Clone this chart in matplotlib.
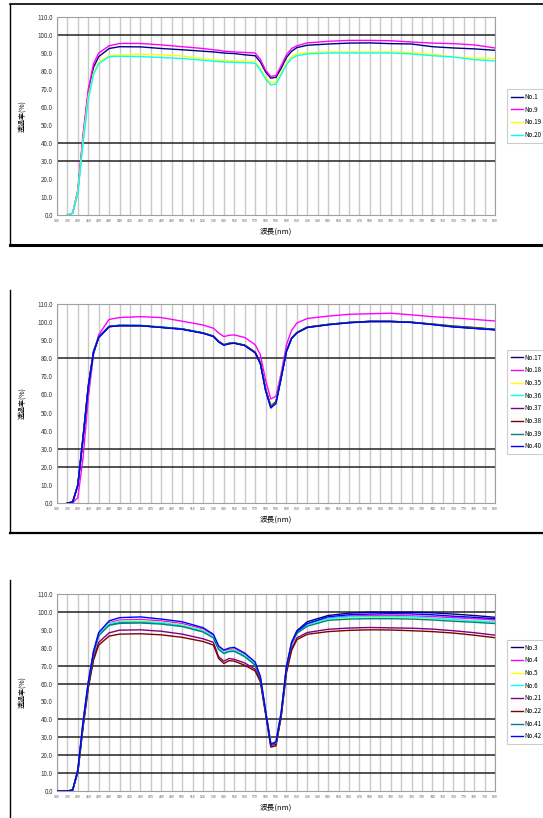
import numpy as np
import matplotlib
matplotlib.use("Agg")
import matplotlib.pyplot as plt
from matplotlib.lines import Line2D

plt.rcParams['font.family'] = ['Noto Sans CJK JP', 'DejaVu Sans']

# wavelength (nm), shared by all three charts
wl = [380, 390, 395, 400, 405, 410, 415, 420, 430, 440, 460, 480, 500, 520,
      530, 535, 540, 545, 550, 560, 570, 575, 580, 585, 590, 595, 600, 605,
      610, 620, 640, 660, 680, 700, 720, 740, 760, 780, 800]
nan = np.nan

# chart 1
p1_names = ["No.1", "No.9", "No.19", "No.20"]
p1_no1 = [nan, 0, 1, 13, 43, 68, 82, 88, 92.5, 93.5, 93.4, 92.5, 91.8, 91,
          90.6, 90.3, 90, 89.8, 89.7, 89, 88.5, 85, 79.5, 76, 76.5, 81.5, 87.5, 91,
          93, 94.3, 95, 95.5, 95.6, 95.2, 95, 93.5, 92.8, 92.3, 91.5]
p1_no9 = [nan, 0, 1, 14, 45, 70, 84, 90, 94, 95.3, 95.3, 94.5, 93.5, 92.5,
          91.8, 91.5, 91, 90.8, 90.6, 90.3, 90, 86.5, 80.5, 77, 77.5, 83, 89, 92.5,
          94, 95.6, 96.5, 97, 97, 96.8, 96.1, 95.5, 95.2, 94.5, 92.8]
p1_no19 = [nan, 0, 1, 13, 42, 66, 79, 85, 88.5, 89, 89.3, 89, 88.3, 86.8,
           86.2, 86, 85.8, 85.7, 85.6, 85.5, 85, 81.5, 76.5, 73.5, 74, 79, 84.5, 88,
           89.5, 90.2, 90.6, 90.6, 90.6, 90.6, 90.3, 89.3, 87.8, 87.2, 86.9]
p1_no20 = [nan, 0, 1, 12, 40, 64, 78, 84, 88, 88.2, 88, 87.5, 86.9, 86,
           85.4, 85.2, 85, 84.9, 84.8, 84.6, 84.3, 80.5, 75.5, 72.2, 72.8, 78, 83.5, 87,
           88.5, 89.5, 90, 90, 90, 90, 89.5, 88.5, 87.8, 86.3, 85.6]

# chart 2
p2_names = ["No.17", "No.18", "No.35", "No.36", "No.37", "No.38", "No.39", "No.40"]
p2_no17 = [nan, 0, 0.5, 10, 37, 65, 84, 92, 97.6, 98.2, 98.1, 97.2, 96.2, 94,
           92.2, 89.3, 87.5, 88.3, 88.5, 87.2, 83.3, 77.5, 63, 53.5, 56, 70, 84, 91.2,
           94.2, 97.2, 98.7, 99.8, 100.4, 100.4, 99.9, 98.8, 97.5, 96.6, 95.8]
p2_no18 = [nan, 0, 0, 3, 25, 58, 82, 93, 101.5, 102.5, 103, 102.5, 100.5, 98.4,
           96.6, 94, 92, 92.7, 92.9, 91.5, 87.5, 82, 68, 57.5, 59, 72, 87.4, 95.5,
           99.5, 102, 103.3, 104.3, 104.6, 104.9, 104, 103, 102.3, 101.5, 100.6]
p2_no35 = [nan, 0, 0.5, 9.5, 35, 63, 83, 91.5, 97.5, 98.1, 98.1, 97.3, 96.3, 94.2,
           92.5, 89.5, 87.6, 88.4, 88.6, 87.4, 83.5, 78, 63.5, 54, 56.5, 70.5, 84.2, 91.3,
           94.3, 97.3, 98.8, 99.8, 100.4, 100.5, 100, 99, 97.9, 97, 96.1]
p2_no36 = [nan, 0, 0.5, 10, 36, 64, 83.5, 91.8, 97.7, 98.3, 98.2, 97.3, 96.3, 94.1,
           92.3, 89.2, 87.4, 88.2, 88.4, 87.1, 83.2, 77.3, 62.8, 53.2, 55.6, 69.6, 84, 91.1,
           94.1, 97.1, 98.6, 99.7, 100.3, 100.4, 99.9, 98.9, 97.8, 96.9, 96]
p2_no37 = [nan, 0, 0.5, 10, 36.5, 64.5, 83.5, 91.7, 97.5, 98.1, 98, 97.1, 96.1, 93.9,
           92.1, 89.1, 87.3, 88.1, 88.4, 87.1, 83.1, 77.2, 62.5, 53, 55.5, 69.5, 83.8, 91,
           94, 97, 98.6, 99.7, 100.3, 100.3, 99.8, 98.7, 97.4, 96.6, 95.8]
p2_no38 = [nan, 0, 0.5, 9.8, 35.5, 63.5, 83, 91.4, 97.4, 98, 98, 97.1, 96.2, 94,
           92.3, 89.4, 87.5, 88.3, 88.5, 87.3, 83.4, 77.8, 63.2, 53.6, 56, 70, 84, 91.2,
           94.2, 97.2, 98.7, 99.8, 100.4, 100.4, 99.9, 98.9, 97.8, 97, 96]
p2_no39 = [nan, 0, 0.5, 10, 36, 64, 83.2, 91.6, 97.6, 98.2, 98.1, 97.2, 96.2, 94,
           92.2, 89.2, 87.4, 88.2, 88.4, 87.1, 83.2, 77.4, 62.8, 53.3, 55.8, 69.8, 84, 91.1,
           94.1, 97.1, 98.7, 99.8, 100.4, 100.4, 99.9, 98.8, 97.6, 96.8, 95.9]
p2_no40 = [nan, 0, 0.5, 10, 36, 64, 83, 91.5, 97.5, 98, 98, 97, 96, 93.8,
           92, 89, 87.2, 88, 88.3, 87, 83, 77, 62, 52.5, 55, 69, 83.7, 91,
           94, 97, 98.5, 99.6, 100.3, 100.3, 99.8, 98.6, 97.3, 96.5, 95.7]

# chart 3
p3_names = ["No.3", "No.4", "No.5", "No.6", "No.21", "No.22", "No.41", "No.42"]
p3_no3 = [0, 0, 0.5, 11.5, 38, 60, 77, 87, 93, 94.3, 94.5, 94, 92.5, 89.5,
          86, 79.5, 77, 78.2, 78.5, 75.5, 70.5, 63, 44.5, 26.5, 27, 43.5, 69, 83,
          89.5, 94.5, 98, 99.3, 99.8, 99.8, 99.8, 99.5, 98.8, 98, 97]
p3_no4 = [0, 0, 0.5, 11.5, 38.5, 60.5, 77.5, 88, 94, 95.5, 95.8, 95, 93.5, 90.5,
          86.8, 80.2, 78, 79, 79.3, 76.3, 71.3, 63.5, 44.8, 26.8, 27.2, 43.8, 69.2, 82.8,
          88.8, 93, 96.5, 97.6, 98, 98, 97.8, 97.4, 96.8, 96.2, 95.5]
p3_no5 = [0, 0, 0.5, 11, 37.5, 60, 77, 87.5, 93.5, 94.8, 95, 94.3, 92.8, 89.8,
          86.2, 79.8, 77.5, 78.5, 78.8, 75.8, 71, 63.2, 44.5, 26.5, 27, 43.5, 69, 82.5,
          88.5, 92.5, 96, 96.8, 97, 97, 96.8, 96.3, 95.7, 95.2, 94.5]
p3_no6 = [0, 0, 0.5, 11, 37.5, 60, 77, 87.3, 93.3, 94.5, 94.6, 94, 92.5, 89.5,
          86, 79.6, 77.3, 78.3, 78.6, 75.6, 70.8, 63, 44.3, 26.3, 26.8, 43.3, 68.8, 82.5,
          88.5, 92.8, 96.3, 97.2, 97.4, 97.4, 97.2, 96.6, 95.8, 95, 94.3]
p3_no21 = [0, 0, 0.5, 10.5, 36, 58, 74, 83, 88.3, 89.8, 90, 89.2, 87.6, 85,
           83, 75, 72.5, 74, 73.5, 71.5, 68, 61.5, 43.5, 25.5, 26, 42, 66.5, 79.5,
           85.5, 88.5, 90.3, 91, 91.3, 91.1, 90.9, 90.4, 89.5, 88.4, 87]
p3_no22 = [0, 0, 0.5, 10.5, 35.5, 57.5, 73, 81.5, 86.5, 87.6, 87.8, 87.2, 85.8, 83.5,
           81.5, 74, 71.2, 72.8, 72.5, 70.2, 67, 61, 43, 24.5, 25.2, 41.5, 66, 78.5,
           84.5, 87.5, 89, 89.7, 90, 89.9, 89.5, 89, 88.2, 87, 85.6]
p3_no41 = [0, 0, 0.5, 11, 37, 59.5, 76.5, 86.8, 92.5, 93.6, 93.8, 93.2, 91.8, 88.8,
           85.5, 79, 76.8, 77.8, 78, 75, 70.3, 62.7, 44, 26.2, 26.6, 43, 68.5, 82,
           88, 92, 95.3, 96, 96.2, 96.2, 96, 95.5, 94.8, 94.2, 93.5]
p3_no42 = [0, 0, 0.5, 12, 39, 61, 78, 88.5, 95, 96.8, 97.2, 96, 94.5, 91.2,
           87.5, 81, 78.7, 79.8, 80.2, 77, 72, 64, 45, 26, 27.5, 44, 69.5, 83,
           89, 93.5, 97.3, 98.4, 98.8, 99, 98.9, 98.4, 97.6, 97, 96.2]

xticks = list(range(380, 801, 10))
yticks = list(range(0, 111, 10))

# Excel 2003 default series colours
excel_colors = ['#000080', '#ff00ff', '#ffff00', '#00ffff',
                '#800080', '#800000', '#008080', '#0000ff']

fig = plt.figure(figsize=(5.43, 8.18), dpi=100)
W, H = 543.0, 818.0


def rect(x0, x1, ytop, ybot):
    # pixel box -> figure fraction
    return [x0 / W, 1 - ybot / H, (x1 - x0) / W, (ybot - ytop) / H]


def fline(x0, y0, x1, y1, lw):
    fig.add_artist(Line2D([x0 / W, x1 / W], [1 - y0 / H, 1 - y1 / H],
                          color='black', lw=lw, transform=fig.transFigure))


panels = [
    (rect(57, 495, 17, 215), [p1_no1, p1_no9, p1_no19, p1_no20], p1_names,
     [100, 40, 30], 1 - 116 / H),
    (rect(57, 495, 304, 503), [p2_no17, p2_no18, p2_no35, p2_no36, p2_no37,
                               p2_no38, p2_no39, p2_no40], p2_names,
     [80, 30, 20], 1 - 402 / H),
    (rect(57, 495, 594, 791), [p3_no3, p3_no4, p3_no5, p3_no6, p3_no21,
                               p3_no22, p3_no41, p3_no42], p3_names,
     [100, 70, 60, 40, 30, 20, 10], 1 - 692 / H),
]

for r, series, names, hl, ly in panels:
    ax = fig.add_axes(r)
    for i, (vals, name) in enumerate(zip(series, names)):
        assert len(vals) == len(wl), name
        ax.plot(wl, vals, color=excel_colors[i], lw=1.0, label=name, zorder=3)
    ax.set_xlim(380, 800)
    ax.set_ylim(0, 110)
    ax.set_xticks(xticks)
    ax.set_xticklabels([str(t) for t in xticks], fontsize=2.5, color='#555555')
    ax.set_yticks(yticks)
    ax.set_yticklabels(["%.1f" % t for t in yticks], fontsize=4.5, color='#333333')
    ax.tick_params(length=0, pad=3)
    for t in xticks:
        ax.axvline(t, color='#c8c8c8', lw=1.0, zorder=1)
    for h in hl:
        ax.axhline(h, color='#222222', lw=1.1, zorder=2)
    for s in ax.spines.values():
        s.set_color('#a0a0a0')
        s.set_linewidth(0.8)
    ax.set_ylabel("透過率(%)", fontsize=5)
    ax.yaxis.set_label_coords(-0.07, 0.5)
    ax.set_xlabel("波長(nm)", fontsize=5.5)
    ax.xaxis.set_label_coords(0.5, -0.065)

    leg = ax.legend(loc='center left', bbox_to_anchor=(0.928, ly),
                    bbox_transform=fig.transFigure,
                    fontsize=4.5, frameon=True, fancybox=False,
                    handlelength=1.9, labelspacing=0.75, borderpad=0.6,
                    handletextpad=0.3)
    leg.get_frame().set_edgecolor('#c0c0c0')
    leg.get_frame().set_linewidth(0.8)

# chart area borders
fline(10, 4, 543, 4, 1.2)
fline(10, 4, 10, 245, 1.0)
fline(10, 245, 543, 245, 2.2)
fline(10, 290, 10, 533, 1.0)
fline(10, 533, 543, 533, 1.6)
fline(10, 580, 10, 818, 1.0)

fig.savefig("out.png", dpi=100)
